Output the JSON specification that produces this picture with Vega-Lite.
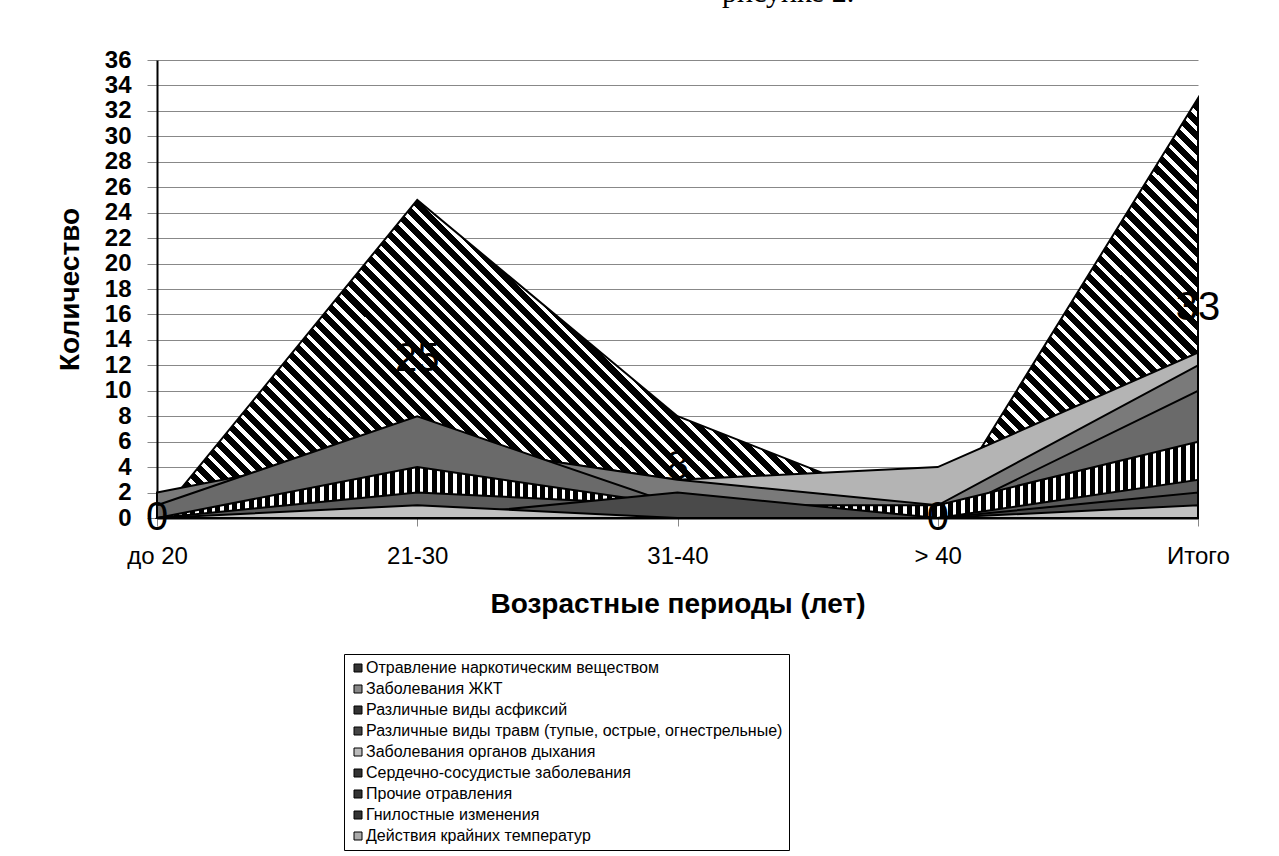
{
 "$schema": "https://vega.github.io/schema/vega-lite/v6.json",
 "width": 1041,
 "height": 458,
 "autosize": "none",
 "padding": {"left": 157, "top": 60, "right": 81, "bottom": 338},
 "background": "white",
 "config": {"font": "Liberation Sans", "view": {"stroke": null}},
 "title": {"text": "рисунке 2.", "font": "Liberation Serif", "fontSize": 30, "fontWeight": "normal", "anchor": "start", "frame": "group", "dx": 565, "offset": 40, "color": "black"},
 "data": {"values": [
  {"age": "до 20", "cause": "Отравление наркотическим веществом", "n": 0},
  {"age": "21-30", "cause": "Отравление наркотическим веществом", "n": 25},
  {"age": "31-40", "cause": "Отравление наркотическим веществом", "n": 8},
  {"age": ">  40", "cause": "Отравление наркотическим веществом", "n": 0},
  {"age": "Итого", "cause": "Отравление наркотическим веществом", "n": 33},
  {"age": "до 20", "cause": "Заболевания  ЖКТ", "n": 0},
  {"age": "21-30", "cause": "Заболевания  ЖКТ", "n": 6},
  {"age": "31-40", "cause": "Заболевания  ЖКТ", "n": 3},
  {"age": ">  40", "cause": "Заболевания  ЖКТ", "n": 4},
  {"age": "Итого", "cause": "Заболевания  ЖКТ", "n": 13},
  {"age": "до 20", "cause": "Различные виды асфиксий", "n": 2},
  {"age": "21-30", "cause": "Различные виды асфиксий", "n": 6},
  {"age": "31-40", "cause": "Различные виды асфиксий", "n": 3},
  {"age": ">  40", "cause": "Различные виды асфиксий", "n": 1},
  {"age": "Итого", "cause": "Различные виды асфиксий", "n": 12},
  {"age": "до 20", "cause": "Различные виды травм (тупые, острые, огнестрельные)", "n": 1},
  {"age": "21-30", "cause": "Различные виды травм (тупые, острые, огнестрельные)", "n": 8},
  {"age": "31-40", "cause": "Различные виды травм (тупые, острые, огнестрельные)", "n": 1},
  {"age": ">  40", "cause": "Различные виды травм (тупые, острые, огнестрельные)", "n": 0},
  {"age": "Итого", "cause": "Различные виды травм (тупые, острые, огнестрельные)", "n": 10},
  {"age": "до 20", "cause": "Заболевания органов дыхания", "n": 0},
  {"age": "21-30", "cause": "Заболевания органов дыхания", "n": 2},
  {"age": "31-40", "cause": "Заболевания органов дыхания", "n": 0},
  {"age": ">  40", "cause": "Заболевания органов дыхания", "n": 0},
  {"age": "Итого", "cause": "Заболевания органов дыхания", "n": 2},
  {"age": "до 20", "cause": "Сердечно-сосудистые заболевания", "n": 0},
  {"age": "21-30", "cause": "Сердечно-сосудистые заболевания", "n": 4},
  {"age": "31-40", "cause": "Сердечно-сосудистые заболевания", "n": 1},
  {"age": ">  40", "cause": "Сердечно-сосудистые заболевания", "n": 1},
  {"age": "Итого", "cause": "Сердечно-сосудистые заболевания", "n": 6},
  {"age": "до 20", "cause": "Прочие отравления", "n": 0},
  {"age": "21-30", "cause": "Прочие отравления", "n": 2},
  {"age": "31-40", "cause": "Прочие отравления", "n": 1},
  {"age": ">  40", "cause": "Прочие отравления", "n": 0},
  {"age": "Итого", "cause": "Прочие отравления", "n": 3},
  {"age": "до 20", "cause": "Гнилостные изменения", "n": 0},
  {"age": "21-30", "cause": "Гнилостные изменения", "n": 0},
  {"age": "31-40", "cause": "Гнилостные изменения", "n": 2},
  {"age": ">  40", "cause": "Гнилостные изменения", "n": 0},
  {"age": "Итого", "cause": "Гнилостные изменения", "n": 2},
  {"age": "до 20", "cause": "Действия крайних температур", "n": 0},
  {"age": "21-30", "cause": "Действия крайних температур", "n": 1},
  {"age": "31-40", "cause": "Действия крайних температур", "n": 0},
  {"age": ">  40", "cause": "Действия крайних температур", "n": 0},
  {"age": "Итого", "cause": "Действия крайних температур", "n": 1}
 ]},
 "resolve": {"scale": {"y": "independent"}},
 "layer": [
  {
   "encoding": {
    "x": {"field": "age", "type": "ordinal", "sort": ["до 20", "21-30", "31-40", ">  40", "Итого"], "scale": {"type": "point", "padding": 0},
     "axis": {"title": "Возрастные периоды (лет)", "titleFontSize": 28, "titleFontWeight": "bold", "titlePadding": 22, "titleColor": "black", "labelFontSize": 24, "labelAngle": 0, "labelPadding": 18, "labelColor": "black", "tickSize": 8, "tickColor": "#888", "domainColor": "black", "domainWidth": 2, "grid": false}},
    "y": {"field": "n", "type": "quantitative", "stack": null, "scale": {"domain": [0, 36], "nice": false},
     "axis": {"title": "Количество", "values": [0, 2, 4, 6, 8, 10, 12, 14, 16, 18, 20, 22, 24, 26, 28, 30, 32, 34, 36], "labelOverlap": false, "labelFontSize": 24, "labelFontWeight": "bold", "labelColor": "black", "labelPadding": 16, "titleFontSize": 28, "titleFontWeight": "bold", "titleColor": "black", "titlePadding": 20, "tickSize": 10, "tickColor": "#888", "domainColor": "black", "domainWidth": 2, "gridColor": "#888", "gridWidth": 1}}
   },
   "layer": [
    {"mark": {"type": "square", "opacity": 0},
     "encoding": {"fill": {"field": "cause", "type": "nominal",
      "scale": {"domain": ["Отравление наркотическим веществом", "Заболевания  ЖКТ", "Различные виды асфиксий", "Различные виды травм (тупые, острые, огнестрельные)", "Заболевания органов дыхания", "Сердечно-сосудистые заболевания", "Прочие отравления", "Гнилостные изменения", "Действия крайних температур"],
       "range": ["#333333", "#888888", "#333333", "#444444", "#bbbbbb", "#333333", "#333333", "#333333", "#aaaaaa"]},
      "legend": {"title": null, "orient": "none", "legendX": 187, "legendY": 594, "direction": "vertical", "symbolType": "square", "symbolSize": 64, "symbolOpacity": 1, "symbolStrokeColor": "black", "symbolStrokeWidth": 1, "labelFontSize": 16, "labelColor": "black", "labelLimit": 600, "labelOffset": 0, "rowPadding": 5, "padding": 6, "strokeColor": "black"}}}},
    {"transform": [{"filter": {"field": "cause", "equal": "Отравление наркотическим веществом"}}], "mark": {"type": "area", "stroke": "black", "strokeWidth": 2, "fill": {"gradient": "linear", "x1": 0, "y1": 1, "x2": 1.207, "y2": 0.513, "stops": [
{"offset":0,"color":"#000"},{"offset":0.0062,"color":"#000"},{"offset":0.0062,"color":"#fff"},{"offset":0.01,"color":"#fff"},
{"offset":0.01,"color":"#000"},{"offset":0.0162,"color":"#000"},{"offset":0.0162,"color":"#fff"},{"offset":0.02,"color":"#fff"},
{"offset":0.02,"color":"#000"},{"offset":0.0262,"color":"#000"},{"offset":0.0262,"color":"#fff"},{"offset":0.03,"color":"#fff"},
{"offset":0.03,"color":"#000"},{"offset":0.0362,"color":"#000"},{"offset":0.0362,"color":"#fff"},{"offset":0.04,"color":"#fff"},
{"offset":0.04,"color":"#000"},{"offset":0.0462,"color":"#000"},{"offset":0.0462,"color":"#fff"},{"offset":0.05,"color":"#fff"},
{"offset":0.05,"color":"#000"},{"offset":0.0562,"color":"#000"},{"offset":0.0562,"color":"#fff"},{"offset":0.06,"color":"#fff"},
{"offset":0.06,"color":"#000"},{"offset":0.0662,"color":"#000"},{"offset":0.0662,"color":"#fff"},{"offset":0.07,"color":"#fff"},
{"offset":0.07,"color":"#000"},{"offset":0.0762,"color":"#000"},{"offset":0.0762,"color":"#fff"},{"offset":0.08,"color":"#fff"},
{"offset":0.08,"color":"#000"},{"offset":0.0862,"color":"#000"},{"offset":0.0862,"color":"#fff"},{"offset":0.09,"color":"#fff"},
{"offset":0.09,"color":"#000"},{"offset":0.0962,"color":"#000"},{"offset":0.0962,"color":"#fff"},{"offset":0.1,"color":"#fff"},
{"offset":0.1,"color":"#000"},{"offset":0.1062,"color":"#000"},{"offset":0.1062,"color":"#fff"},{"offset":0.11,"color":"#fff"},
{"offset":0.11,"color":"#000"},{"offset":0.1162,"color":"#000"},{"offset":0.1162,"color":"#fff"},{"offset":0.12,"color":"#fff"},
{"offset":0.12,"color":"#000"},{"offset":0.1262,"color":"#000"},{"offset":0.1262,"color":"#fff"},{"offset":0.13,"color":"#fff"},
{"offset":0.13,"color":"#000"},{"offset":0.1362,"color":"#000"},{"offset":0.1362,"color":"#fff"},{"offset":0.14,"color":"#fff"},
{"offset":0.14,"color":"#000"},{"offset":0.1462,"color":"#000"},{"offset":0.1462,"color":"#fff"},{"offset":0.15,"color":"#fff"},
{"offset":0.15,"color":"#000"},{"offset":0.1562,"color":"#000"},{"offset":0.1562,"color":"#fff"},{"offset":0.16,"color":"#fff"},
{"offset":0.16,"color":"#000"},{"offset":0.1662,"color":"#000"},{"offset":0.1662,"color":"#fff"},{"offset":0.17,"color":"#fff"},
{"offset":0.17,"color":"#000"},{"offset":0.1762,"color":"#000"},{"offset":0.1762,"color":"#fff"},{"offset":0.18,"color":"#fff"},
{"offset":0.18,"color":"#000"},{"offset":0.1862,"color":"#000"},{"offset":0.1862,"color":"#fff"},{"offset":0.19,"color":"#fff"},
{"offset":0.19,"color":"#000"},{"offset":0.1962,"color":"#000"},{"offset":0.1962,"color":"#fff"},{"offset":0.2,"color":"#fff"},
{"offset":0.2,"color":"#000"},{"offset":0.2062,"color":"#000"},{"offset":0.2062,"color":"#fff"},{"offset":0.21,"color":"#fff"},
{"offset":0.21,"color":"#000"},{"offset":0.2162,"color":"#000"},{"offset":0.2162,"color":"#fff"},{"offset":0.22,"color":"#fff"},
{"offset":0.22,"color":"#000"},{"offset":0.2262,"color":"#000"},{"offset":0.2262,"color":"#fff"},{"offset":0.23,"color":"#fff"},
{"offset":0.23,"color":"#000"},{"offset":0.2362,"color":"#000"},{"offset":0.2362,"color":"#fff"},{"offset":0.24,"color":"#fff"},
{"offset":0.24,"color":"#000"},{"offset":0.2462,"color":"#000"},{"offset":0.2462,"color":"#fff"},{"offset":0.25,"color":"#fff"},
{"offset":0.25,"color":"#000"},{"offset":0.2562,"color":"#000"},{"offset":0.2562,"color":"#fff"},{"offset":0.26,"color":"#fff"},
{"offset":0.26,"color":"#000"},{"offset":0.2662,"color":"#000"},{"offset":0.2662,"color":"#fff"},{"offset":0.27,"color":"#fff"},
{"offset":0.27,"color":"#000"},{"offset":0.2762,"color":"#000"},{"offset":0.2762,"color":"#fff"},{"offset":0.28,"color":"#fff"},
{"offset":0.28,"color":"#000"},{"offset":0.2862,"color":"#000"},{"offset":0.2862,"color":"#fff"},{"offset":0.29,"color":"#fff"},
{"offset":0.29,"color":"#000"},{"offset":0.2962,"color":"#000"},{"offset":0.2962,"color":"#fff"},{"offset":0.3,"color":"#fff"},
{"offset":0.3,"color":"#000"},{"offset":0.3062,"color":"#000"},{"offset":0.3062,"color":"#fff"},{"offset":0.31,"color":"#fff"},
{"offset":0.31,"color":"#000"},{"offset":0.3162,"color":"#000"},{"offset":0.3162,"color":"#fff"},{"offset":0.32,"color":"#fff"},
{"offset":0.32,"color":"#000"},{"offset":0.3262,"color":"#000"},{"offset":0.3262,"color":"#fff"},{"offset":0.33,"color":"#fff"},
{"offset":0.33,"color":"#000"},{"offset":0.3362,"color":"#000"},{"offset":0.3362,"color":"#fff"},{"offset":0.34,"color":"#fff"},
{"offset":0.34,"color":"#000"},{"offset":0.3462,"color":"#000"},{"offset":0.3462,"color":"#fff"},{"offset":0.35,"color":"#fff"},
{"offset":0.35,"color":"#000"},{"offset":0.3562,"color":"#000"},{"offset":0.3562,"color":"#fff"},{"offset":0.36,"color":"#fff"},
{"offset":0.36,"color":"#000"},{"offset":0.3662,"color":"#000"},{"offset":0.3662,"color":"#fff"},{"offset":0.37,"color":"#fff"},
{"offset":0.37,"color":"#000"},{"offset":0.3762,"color":"#000"},{"offset":0.3762,"color":"#fff"},{"offset":0.38,"color":"#fff"},
{"offset":0.38,"color":"#000"},{"offset":0.3862,"color":"#000"},{"offset":0.3862,"color":"#fff"},{"offset":0.39,"color":"#fff"},
{"offset":0.39,"color":"#000"},{"offset":0.3962,"color":"#000"},{"offset":0.3962,"color":"#fff"},{"offset":0.4,"color":"#fff"},
{"offset":0.4,"color":"#000"},{"offset":0.4062,"color":"#000"},{"offset":0.4062,"color":"#fff"},{"offset":0.41,"color":"#fff"},
{"offset":0.41,"color":"#000"},{"offset":0.4162,"color":"#000"},{"offset":0.4162,"color":"#fff"},{"offset":0.42,"color":"#fff"},
{"offset":0.42,"color":"#000"},{"offset":0.4262,"color":"#000"},{"offset":0.4262,"color":"#fff"},{"offset":0.43,"color":"#fff"},
{"offset":0.43,"color":"#000"},{"offset":0.4362,"color":"#000"},{"offset":0.4362,"color":"#fff"},{"offset":0.44,"color":"#fff"},
{"offset":0.44,"color":"#000"},{"offset":0.4462,"color":"#000"},{"offset":0.4462,"color":"#fff"},{"offset":0.45,"color":"#fff"},
{"offset":0.45,"color":"#000"},{"offset":0.4562,"color":"#000"},{"offset":0.4562,"color":"#fff"},{"offset":0.46,"color":"#fff"},
{"offset":0.46,"color":"#000"},{"offset":0.4662,"color":"#000"},{"offset":0.4662,"color":"#fff"},{"offset":0.47,"color":"#fff"},
{"offset":0.47,"color":"#000"},{"offset":0.4762,"color":"#000"},{"offset":0.4762,"color":"#fff"},{"offset":0.48,"color":"#fff"},
{"offset":0.48,"color":"#000"},{"offset":0.4862,"color":"#000"},{"offset":0.4862,"color":"#fff"},{"offset":0.49,"color":"#fff"},
{"offset":0.49,"color":"#000"},{"offset":0.4962,"color":"#000"},{"offset":0.4962,"color":"#fff"},{"offset":0.5,"color":"#fff"},
{"offset":0.5,"color":"#000"},{"offset":0.5062,"color":"#000"},{"offset":0.5062,"color":"#fff"},{"offset":0.51,"color":"#fff"},
{"offset":0.51,"color":"#000"},{"offset":0.5162,"color":"#000"},{"offset":0.5162,"color":"#fff"},{"offset":0.52,"color":"#fff"},
{"offset":0.52,"color":"#000"},{"offset":0.5262,"color":"#000"},{"offset":0.5262,"color":"#fff"},{"offset":0.53,"color":"#fff"},
{"offset":0.53,"color":"#000"},{"offset":0.5362,"color":"#000"},{"offset":0.5362,"color":"#fff"},{"offset":0.54,"color":"#fff"},
{"offset":0.54,"color":"#000"},{"offset":0.5462,"color":"#000"},{"offset":0.5462,"color":"#fff"},{"offset":0.55,"color":"#fff"},
{"offset":0.55,"color":"#000"},{"offset":0.5562,"color":"#000"},{"offset":0.5562,"color":"#fff"},{"offset":0.56,"color":"#fff"},
{"offset":0.56,"color":"#000"},{"offset":0.5662,"color":"#000"},{"offset":0.5662,"color":"#fff"},{"offset":0.57,"color":"#fff"},
{"offset":0.57,"color":"#000"},{"offset":0.5762,"color":"#000"},{"offset":0.5762,"color":"#fff"},{"offset":0.58,"color":"#fff"},
{"offset":0.58,"color":"#000"},{"offset":0.5862,"color":"#000"},{"offset":0.5862,"color":"#fff"},{"offset":0.59,"color":"#fff"},
{"offset":0.59,"color":"#000"},{"offset":0.5962,"color":"#000"},{"offset":0.5962,"color":"#fff"},{"offset":0.6,"color":"#fff"},
{"offset":0.6,"color":"#000"},{"offset":0.6062,"color":"#000"},{"offset":0.6062,"color":"#fff"},{"offset":0.61,"color":"#fff"},
{"offset":0.61,"color":"#000"},{"offset":0.6162,"color":"#000"},{"offset":0.6162,"color":"#fff"},{"offset":0.62,"color":"#fff"},
{"offset":0.62,"color":"#000"},{"offset":0.6262,"color":"#000"},{"offset":0.6262,"color":"#fff"},{"offset":0.63,"color":"#fff"},
{"offset":0.63,"color":"#000"},{"offset":0.6362,"color":"#000"},{"offset":0.6362,"color":"#fff"},{"offset":0.64,"color":"#fff"},
{"offset":0.64,"color":"#000"},{"offset":0.6462,"color":"#000"},{"offset":0.6462,"color":"#fff"},{"offset":0.65,"color":"#fff"},
{"offset":0.65,"color":"#000"},{"offset":0.6562,"color":"#000"},{"offset":0.6562,"color":"#fff"},{"offset":0.66,"color":"#fff"},
{"offset":0.66,"color":"#000"},{"offset":0.6662,"color":"#000"},{"offset":0.6662,"color":"#fff"},{"offset":0.67,"color":"#fff"},
{"offset":0.67,"color":"#000"},{"offset":0.6762,"color":"#000"},{"offset":0.6762,"color":"#fff"},{"offset":0.68,"color":"#fff"},
{"offset":0.68,"color":"#000"},{"offset":0.6862,"color":"#000"},{"offset":0.6862,"color":"#fff"},{"offset":0.69,"color":"#fff"},
{"offset":0.69,"color":"#000"},{"offset":0.6962,"color":"#000"},{"offset":0.6962,"color":"#fff"},{"offset":0.7,"color":"#fff"},
{"offset":0.7,"color":"#000"},{"offset":0.7062,"color":"#000"},{"offset":0.7062,"color":"#fff"},{"offset":0.71,"color":"#fff"},
{"offset":0.71,"color":"#000"},{"offset":0.7162,"color":"#000"},{"offset":0.7162,"color":"#fff"},{"offset":0.72,"color":"#fff"},
{"offset":0.72,"color":"#000"},{"offset":0.7262,"color":"#000"},{"offset":0.7262,"color":"#fff"},{"offset":0.73,"color":"#fff"},
{"offset":0.73,"color":"#000"},{"offset":0.7362,"color":"#000"},{"offset":0.7362,"color":"#fff"},{"offset":0.74,"color":"#fff"},
{"offset":0.74,"color":"#000"},{"offset":0.7462,"color":"#000"},{"offset":0.7462,"color":"#fff"},{"offset":0.75,"color":"#fff"},
{"offset":0.75,"color":"#000"},{"offset":0.7562,"color":"#000"},{"offset":0.7562,"color":"#fff"},{"offset":0.76,"color":"#fff"},
{"offset":0.76,"color":"#000"},{"offset":0.7662,"color":"#000"},{"offset":0.7662,"color":"#fff"},{"offset":0.77,"color":"#fff"},
{"offset":0.77,"color":"#000"},{"offset":0.7762,"color":"#000"},{"offset":0.7762,"color":"#fff"},{"offset":0.78,"color":"#fff"},
{"offset":0.78,"color":"#000"},{"offset":0.7862,"color":"#000"},{"offset":0.7862,"color":"#fff"},{"offset":0.79,"color":"#fff"},
{"offset":0.79,"color":"#000"},{"offset":0.7962,"color":"#000"},{"offset":0.7962,"color":"#fff"},{"offset":0.8,"color":"#fff"},
{"offset":0.8,"color":"#000"},{"offset":0.8062,"color":"#000"},{"offset":0.8062,"color":"#fff"},{"offset":0.81,"color":"#fff"},
{"offset":0.81,"color":"#000"},{"offset":0.8162,"color":"#000"},{"offset":0.8162,"color":"#fff"},{"offset":0.82,"color":"#fff"},
{"offset":0.82,"color":"#000"},{"offset":0.8262,"color":"#000"},{"offset":0.8262,"color":"#fff"},{"offset":0.83,"color":"#fff"},
{"offset":0.83,"color":"#000"},{"offset":0.8362,"color":"#000"},{"offset":0.8362,"color":"#fff"},{"offset":0.84,"color":"#fff"},
{"offset":0.84,"color":"#000"},{"offset":0.8462,"color":"#000"},{"offset":0.8462,"color":"#fff"},{"offset":0.85,"color":"#fff"},
{"offset":0.85,"color":"#000"},{"offset":0.8562,"color":"#000"},{"offset":0.8562,"color":"#fff"},{"offset":0.86,"color":"#fff"},
{"offset":0.86,"color":"#000"},{"offset":0.8662,"color":"#000"},{"offset":0.8662,"color":"#fff"},{"offset":0.87,"color":"#fff"},
{"offset":0.87,"color":"#000"},{"offset":0.8762,"color":"#000"},{"offset":0.8762,"color":"#fff"},{"offset":0.88,"color":"#fff"},
{"offset":0.88,"color":"#000"},{"offset":0.8862,"color":"#000"},{"offset":0.8862,"color":"#fff"},{"offset":0.89,"color":"#fff"},
{"offset":0.89,"color":"#000"},{"offset":0.8962,"color":"#000"},{"offset":0.8962,"color":"#fff"},{"offset":0.9,"color":"#fff"},
{"offset":0.9,"color":"#000"},{"offset":0.9062,"color":"#000"},{"offset":0.9062,"color":"#fff"},{"offset":0.91,"color":"#fff"},
{"offset":0.91,"color":"#000"},{"offset":0.9162,"color":"#000"},{"offset":0.9162,"color":"#fff"},{"offset":0.92,"color":"#fff"},
{"offset":0.92,"color":"#000"},{"offset":0.9262,"color":"#000"},{"offset":0.9262,"color":"#fff"},{"offset":0.93,"color":"#fff"},
{"offset":0.93,"color":"#000"},{"offset":0.9362,"color":"#000"},{"offset":0.9362,"color":"#fff"},{"offset":0.94,"color":"#fff"},
{"offset":0.94,"color":"#000"},{"offset":0.9462,"color":"#000"},{"offset":0.9462,"color":"#fff"},{"offset":0.95,"color":"#fff"},
{"offset":0.95,"color":"#000"},{"offset":0.9562,"color":"#000"},{"offset":0.9562,"color":"#fff"},{"offset":0.96,"color":"#fff"},
{"offset":0.96,"color":"#000"},{"offset":0.9662,"color":"#000"},{"offset":0.9662,"color":"#fff"},{"offset":0.97,"color":"#fff"},
{"offset":0.97,"color":"#000"},{"offset":0.9762,"color":"#000"},{"offset":0.9762,"color":"#fff"},{"offset":0.98,"color":"#fff"},
{"offset":0.98,"color":"#000"},{"offset":0.9862,"color":"#000"},{"offset":0.9862,"color":"#fff"},{"offset":0.99,"color":"#fff"},
{"offset":0.99,"color":"#000"},{"offset":0.9962,"color":"#000"},{"offset":0.9962,"color":"#fff"},{"offset":1,"color":"#fff"}
]}}},
    {"transform": [{"filter": {"field": "cause", "equal": "Заболевания  ЖКТ"}}], "mark": {"type": "area", "stroke": "black", "strokeWidth": 2, "fill": "#b4b4b4"}},
    {"transform": [{"filter": {"field": "cause", "equal": "Различные виды асфиксий"}}], "mark": {"type": "area", "stroke": "black", "strokeWidth": 2, "fill": "#7a7a7a"}},
    {"transform": [{"filter": {"field": "cause", "equal": "Различные виды травм (тупые, острые, огнестрельные)"}}], "mark": {"type": "area", "stroke": "black", "strokeWidth": 2, "fill": "#6a6a6a"}},
    {"transform": [{"filter": {"field": "cause", "equal": "Заболевания органов дыхания"}}], "mark": {"type": "area", "stroke": "black", "strokeWidth": 2, "fill": "#c0c0c0"}},
    {"transform": [{"filter": {"field": "cause", "equal": "Сердечно-сосудистые заболевания"}}], "mark": {"type": "area", "stroke": "black", "strokeWidth": 2, "fill": {"gradient": "linear", "x1": 0, "y1": 0, "x2": 1, "y2": 0, "stops": [
{"offset":0,"color":"#000"},{"offset":0.0048,"color":"#000"},{"offset":0.0048,"color":"#fff"},{"offset":0.008,"color":"#fff"},
{"offset":0.008,"color":"#000"},{"offset":0.0128,"color":"#000"},{"offset":0.0128,"color":"#fff"},{"offset":0.016,"color":"#fff"},
{"offset":0.016,"color":"#000"},{"offset":0.0208,"color":"#000"},{"offset":0.0208,"color":"#fff"},{"offset":0.024,"color":"#fff"},
{"offset":0.024,"color":"#000"},{"offset":0.0288,"color":"#000"},{"offset":0.0288,"color":"#fff"},{"offset":0.032,"color":"#fff"},
{"offset":0.032,"color":"#000"},{"offset":0.0368,"color":"#000"},{"offset":0.0368,"color":"#fff"},{"offset":0.04,"color":"#fff"},
{"offset":0.04,"color":"#000"},{"offset":0.0448,"color":"#000"},{"offset":0.0448,"color":"#fff"},{"offset":0.048,"color":"#fff"},
{"offset":0.048,"color":"#000"},{"offset":0.0528,"color":"#000"},{"offset":0.0528,"color":"#fff"},{"offset":0.056,"color":"#fff"},
{"offset":0.056,"color":"#000"},{"offset":0.0608,"color":"#000"},{"offset":0.0608,"color":"#fff"},{"offset":0.064,"color":"#fff"},
{"offset":0.064,"color":"#000"},{"offset":0.0688,"color":"#000"},{"offset":0.0688,"color":"#fff"},{"offset":0.072,"color":"#fff"},
{"offset":0.072,"color":"#000"},{"offset":0.0768,"color":"#000"},{"offset":0.0768,"color":"#fff"},{"offset":0.08,"color":"#fff"},
{"offset":0.08,"color":"#000"},{"offset":0.0848,"color":"#000"},{"offset":0.0848,"color":"#fff"},{"offset":0.088,"color":"#fff"},
{"offset":0.088,"color":"#000"},{"offset":0.0928,"color":"#000"},{"offset":0.0928,"color":"#fff"},{"offset":0.096,"color":"#fff"},
{"offset":0.096,"color":"#000"},{"offset":0.1008,"color":"#000"},{"offset":0.1008,"color":"#fff"},{"offset":0.104,"color":"#fff"},
{"offset":0.104,"color":"#000"},{"offset":0.1088,"color":"#000"},{"offset":0.1088,"color":"#fff"},{"offset":0.112,"color":"#fff"},
{"offset":0.112,"color":"#000"},{"offset":0.1168,"color":"#000"},{"offset":0.1168,"color":"#fff"},{"offset":0.12,"color":"#fff"},
{"offset":0.12,"color":"#000"},{"offset":0.1248,"color":"#000"},{"offset":0.1248,"color":"#fff"},{"offset":0.128,"color":"#fff"},
{"offset":0.128,"color":"#000"},{"offset":0.1328,"color":"#000"},{"offset":0.1328,"color":"#fff"},{"offset":0.136,"color":"#fff"},
{"offset":0.136,"color":"#000"},{"offset":0.1408,"color":"#000"},{"offset":0.1408,"color":"#fff"},{"offset":0.144,"color":"#fff"},
{"offset":0.144,"color":"#000"},{"offset":0.1488,"color":"#000"},{"offset":0.1488,"color":"#fff"},{"offset":0.152,"color":"#fff"},
{"offset":0.152,"color":"#000"},{"offset":0.1568,"color":"#000"},{"offset":0.1568,"color":"#fff"},{"offset":0.16,"color":"#fff"},
{"offset":0.16,"color":"#000"},{"offset":0.1648,"color":"#000"},{"offset":0.1648,"color":"#fff"},{"offset":0.168,"color":"#fff"},
{"offset":0.168,"color":"#000"},{"offset":0.1728,"color":"#000"},{"offset":0.1728,"color":"#fff"},{"offset":0.176,"color":"#fff"},
{"offset":0.176,"color":"#000"},{"offset":0.1808,"color":"#000"},{"offset":0.1808,"color":"#fff"},{"offset":0.184,"color":"#fff"},
{"offset":0.184,"color":"#000"},{"offset":0.1888,"color":"#000"},{"offset":0.1888,"color":"#fff"},{"offset":0.192,"color":"#fff"},
{"offset":0.192,"color":"#000"},{"offset":0.1968,"color":"#000"},{"offset":0.1968,"color":"#fff"},{"offset":0.2,"color":"#fff"},
{"offset":0.2,"color":"#000"},{"offset":0.2048,"color":"#000"},{"offset":0.2048,"color":"#fff"},{"offset":0.208,"color":"#fff"},
{"offset":0.208,"color":"#000"},{"offset":0.2128,"color":"#000"},{"offset":0.2128,"color":"#fff"},{"offset":0.216,"color":"#fff"},
{"offset":0.216,"color":"#000"},{"offset":0.2208,"color":"#000"},{"offset":0.2208,"color":"#fff"},{"offset":0.224,"color":"#fff"},
{"offset":0.224,"color":"#000"},{"offset":0.2288,"color":"#000"},{"offset":0.2288,"color":"#fff"},{"offset":0.232,"color":"#fff"},
{"offset":0.232,"color":"#000"},{"offset":0.2368,"color":"#000"},{"offset":0.2368,"color":"#fff"},{"offset":0.24,"color":"#fff"},
{"offset":0.24,"color":"#000"},{"offset":0.2448,"color":"#000"},{"offset":0.2448,"color":"#fff"},{"offset":0.248,"color":"#fff"},
{"offset":0.248,"color":"#000"},{"offset":0.2528,"color":"#000"},{"offset":0.2528,"color":"#fff"},{"offset":0.256,"color":"#fff"},
{"offset":0.256,"color":"#000"},{"offset":0.2608,"color":"#000"},{"offset":0.2608,"color":"#fff"},{"offset":0.264,"color":"#fff"},
{"offset":0.264,"color":"#000"},{"offset":0.2688,"color":"#000"},{"offset":0.2688,"color":"#fff"},{"offset":0.272,"color":"#fff"},
{"offset":0.272,"color":"#000"},{"offset":0.2768,"color":"#000"},{"offset":0.2768,"color":"#fff"},{"offset":0.28,"color":"#fff"},
{"offset":0.28,"color":"#000"},{"offset":0.2848,"color":"#000"},{"offset":0.2848,"color":"#fff"},{"offset":0.288,"color":"#fff"},
{"offset":0.288,"color":"#000"},{"offset":0.2928,"color":"#000"},{"offset":0.2928,"color":"#fff"},{"offset":0.296,"color":"#fff"},
{"offset":0.296,"color":"#000"},{"offset":0.3008,"color":"#000"},{"offset":0.3008,"color":"#fff"},{"offset":0.304,"color":"#fff"},
{"offset":0.304,"color":"#000"},{"offset":0.3088,"color":"#000"},{"offset":0.3088,"color":"#fff"},{"offset":0.312,"color":"#fff"},
{"offset":0.312,"color":"#000"},{"offset":0.3168,"color":"#000"},{"offset":0.3168,"color":"#fff"},{"offset":0.32,"color":"#fff"},
{"offset":0.32,"color":"#000"},{"offset":0.3248,"color":"#000"},{"offset":0.3248,"color":"#fff"},{"offset":0.328,"color":"#fff"},
{"offset":0.328,"color":"#000"},{"offset":0.3328,"color":"#000"},{"offset":0.3328,"color":"#fff"},{"offset":0.336,"color":"#fff"},
{"offset":0.336,"color":"#000"},{"offset":0.3408,"color":"#000"},{"offset":0.3408,"color":"#fff"},{"offset":0.344,"color":"#fff"},
{"offset":0.344,"color":"#000"},{"offset":0.3488,"color":"#000"},{"offset":0.3488,"color":"#fff"},{"offset":0.352,"color":"#fff"},
{"offset":0.352,"color":"#000"},{"offset":0.3568,"color":"#000"},{"offset":0.3568,"color":"#fff"},{"offset":0.36,"color":"#fff"},
{"offset":0.36,"color":"#000"},{"offset":0.3648,"color":"#000"},{"offset":0.3648,"color":"#fff"},{"offset":0.368,"color":"#fff"},
{"offset":0.368,"color":"#000"},{"offset":0.3728,"color":"#000"},{"offset":0.3728,"color":"#fff"},{"offset":0.376,"color":"#fff"},
{"offset":0.376,"color":"#000"},{"offset":0.3808,"color":"#000"},{"offset":0.3808,"color":"#fff"},{"offset":0.384,"color":"#fff"},
{"offset":0.384,"color":"#000"},{"offset":0.3888,"color":"#000"},{"offset":0.3888,"color":"#fff"},{"offset":0.392,"color":"#fff"},
{"offset":0.392,"color":"#000"},{"offset":0.3968,"color":"#000"},{"offset":0.3968,"color":"#fff"},{"offset":0.4,"color":"#fff"},
{"offset":0.4,"color":"#000"},{"offset":0.4048,"color":"#000"},{"offset":0.4048,"color":"#fff"},{"offset":0.408,"color":"#fff"},
{"offset":0.408,"color":"#000"},{"offset":0.4128,"color":"#000"},{"offset":0.4128,"color":"#fff"},{"offset":0.416,"color":"#fff"},
{"offset":0.416,"color":"#000"},{"offset":0.4208,"color":"#000"},{"offset":0.4208,"color":"#fff"},{"offset":0.424,"color":"#fff"},
{"offset":0.424,"color":"#000"},{"offset":0.4288,"color":"#000"},{"offset":0.4288,"color":"#fff"},{"offset":0.432,"color":"#fff"},
{"offset":0.432,"color":"#000"},{"offset":0.4368,"color":"#000"},{"offset":0.4368,"color":"#fff"},{"offset":0.44,"color":"#fff"},
{"offset":0.44,"color":"#000"},{"offset":0.4448,"color":"#000"},{"offset":0.4448,"color":"#fff"},{"offset":0.448,"color":"#fff"},
{"offset":0.448,"color":"#000"},{"offset":0.4528,"color":"#000"},{"offset":0.4528,"color":"#fff"},{"offset":0.456,"color":"#fff"},
{"offset":0.456,"color":"#000"},{"offset":0.4608,"color":"#000"},{"offset":0.4608,"color":"#fff"},{"offset":0.464,"color":"#fff"},
{"offset":0.464,"color":"#000"},{"offset":0.4688,"color":"#000"},{"offset":0.4688,"color":"#fff"},{"offset":0.472,"color":"#fff"},
{"offset":0.472,"color":"#000"},{"offset":0.4768,"color":"#000"},{"offset":0.4768,"color":"#fff"},{"offset":0.48,"color":"#fff"},
{"offset":0.48,"color":"#000"},{"offset":0.4848,"color":"#000"},{"offset":0.4848,"color":"#fff"},{"offset":0.488,"color":"#fff"},
{"offset":0.488,"color":"#000"},{"offset":0.4928,"color":"#000"},{"offset":0.4928,"color":"#fff"},{"offset":0.496,"color":"#fff"},
{"offset":0.496,"color":"#000"},{"offset":0.5008,"color":"#000"},{"offset":0.5008,"color":"#fff"},{"offset":0.504,"color":"#fff"},
{"offset":0.504,"color":"#000"},{"offset":0.5088,"color":"#000"},{"offset":0.5088,"color":"#fff"},{"offset":0.512,"color":"#fff"},
{"offset":0.512,"color":"#000"},{"offset":0.5168,"color":"#000"},{"offset":0.5168,"color":"#fff"},{"offset":0.52,"color":"#fff"},
{"offset":0.52,"color":"#000"},{"offset":0.5248,"color":"#000"},{"offset":0.5248,"color":"#fff"},{"offset":0.528,"color":"#fff"},
{"offset":0.528,"color":"#000"},{"offset":0.5328,"color":"#000"},{"offset":0.5328,"color":"#fff"},{"offset":0.536,"color":"#fff"},
{"offset":0.536,"color":"#000"},{"offset":0.5408,"color":"#000"},{"offset":0.5408,"color":"#fff"},{"offset":0.544,"color":"#fff"},
{"offset":0.544,"color":"#000"},{"offset":0.5488,"color":"#000"},{"offset":0.5488,"color":"#fff"},{"offset":0.552,"color":"#fff"},
{"offset":0.552,"color":"#000"},{"offset":0.5568,"color":"#000"},{"offset":0.5568,"color":"#fff"},{"offset":0.56,"color":"#fff"},
{"offset":0.56,"color":"#000"},{"offset":0.5648,"color":"#000"},{"offset":0.5648,"color":"#fff"},{"offset":0.568,"color":"#fff"},
{"offset":0.568,"color":"#000"},{"offset":0.5728,"color":"#000"},{"offset":0.5728,"color":"#fff"},{"offset":0.576,"color":"#fff"},
{"offset":0.576,"color":"#000"},{"offset":0.5808,"color":"#000"},{"offset":0.5808,"color":"#fff"},{"offset":0.584,"color":"#fff"},
{"offset":0.584,"color":"#000"},{"offset":0.5888,"color":"#000"},{"offset":0.5888,"color":"#fff"},{"offset":0.592,"color":"#fff"},
{"offset":0.592,"color":"#000"},{"offset":0.5968,"color":"#000"},{"offset":0.5968,"color":"#fff"},{"offset":0.6,"color":"#fff"},
{"offset":0.6,"color":"#000"},{"offset":0.6048,"color":"#000"},{"offset":0.6048,"color":"#fff"},{"offset":0.608,"color":"#fff"},
{"offset":0.608,"color":"#000"},{"offset":0.6128,"color":"#000"},{"offset":0.6128,"color":"#fff"},{"offset":0.616,"color":"#fff"},
{"offset":0.616,"color":"#000"},{"offset":0.6208,"color":"#000"},{"offset":0.6208,"color":"#fff"},{"offset":0.624,"color":"#fff"},
{"offset":0.624,"color":"#000"},{"offset":0.6288,"color":"#000"},{"offset":0.6288,"color":"#fff"},{"offset":0.632,"color":"#fff"},
{"offset":0.632,"color":"#000"},{"offset":0.6368,"color":"#000"},{"offset":0.6368,"color":"#fff"},{"offset":0.64,"color":"#fff"},
{"offset":0.64,"color":"#000"},{"offset":0.6448,"color":"#000"},{"offset":0.6448,"color":"#fff"},{"offset":0.648,"color":"#fff"},
{"offset":0.648,"color":"#000"},{"offset":0.6528,"color":"#000"},{"offset":0.6528,"color":"#fff"},{"offset":0.656,"color":"#fff"},
{"offset":0.656,"color":"#000"},{"offset":0.6608,"color":"#000"},{"offset":0.6608,"color":"#fff"},{"offset":0.664,"color":"#fff"},
{"offset":0.664,"color":"#000"},{"offset":0.6688,"color":"#000"},{"offset":0.6688,"color":"#fff"},{"offset":0.672,"color":"#fff"},
{"offset":0.672,"color":"#000"},{"offset":0.6768,"color":"#000"},{"offset":0.6768,"color":"#fff"},{"offset":0.68,"color":"#fff"},
{"offset":0.68,"color":"#000"},{"offset":0.6848,"color":"#000"},{"offset":0.6848,"color":"#fff"},{"offset":0.688,"color":"#fff"},
{"offset":0.688,"color":"#000"},{"offset":0.6928,"color":"#000"},{"offset":0.6928,"color":"#fff"},{"offset":0.696,"color":"#fff"},
{"offset":0.696,"color":"#000"},{"offset":0.7008,"color":"#000"},{"offset":0.7008,"color":"#fff"},{"offset":0.704,"color":"#fff"},
{"offset":0.704,"color":"#000"},{"offset":0.7088,"color":"#000"},{"offset":0.7088,"color":"#fff"},{"offset":0.712,"color":"#fff"},
{"offset":0.712,"color":"#000"},{"offset":0.7168,"color":"#000"},{"offset":0.7168,"color":"#fff"},{"offset":0.72,"color":"#fff"},
{"offset":0.72,"color":"#000"},{"offset":0.7248,"color":"#000"},{"offset":0.7248,"color":"#fff"},{"offset":0.728,"color":"#fff"},
{"offset":0.728,"color":"#000"},{"offset":0.7328,"color":"#000"},{"offset":0.7328,"color":"#fff"},{"offset":0.736,"color":"#fff"},
{"offset":0.736,"color":"#000"},{"offset":0.7408,"color":"#000"},{"offset":0.7408,"color":"#fff"},{"offset":0.744,"color":"#fff"},
{"offset":0.744,"color":"#000"},{"offset":0.7488,"color":"#000"},{"offset":0.7488,"color":"#fff"},{"offset":0.752,"color":"#fff"},
{"offset":0.752,"color":"#000"},{"offset":0.7568,"color":"#000"},{"offset":0.7568,"color":"#fff"},{"offset":0.76,"color":"#fff"},
{"offset":0.76,"color":"#000"},{"offset":0.7648,"color":"#000"},{"offset":0.7648,"color":"#fff"},{"offset":0.768,"color":"#fff"},
{"offset":0.768,"color":"#000"},{"offset":0.7728,"color":"#000"},{"offset":0.7728,"color":"#fff"},{"offset":0.776,"color":"#fff"},
{"offset":0.776,"color":"#000"},{"offset":0.7808,"color":"#000"},{"offset":0.7808,"color":"#fff"},{"offset":0.784,"color":"#fff"},
{"offset":0.784,"color":"#000"},{"offset":0.7888,"color":"#000"},{"offset":0.7888,"color":"#fff"},{"offset":0.792,"color":"#fff"},
{"offset":0.792,"color":"#000"},{"offset":0.7968,"color":"#000"},{"offset":0.7968,"color":"#fff"},{"offset":0.8,"color":"#fff"},
{"offset":0.8,"color":"#000"},{"offset":0.8048,"color":"#000"},{"offset":0.8048,"color":"#fff"},{"offset":0.808,"color":"#fff"},
{"offset":0.808,"color":"#000"},{"offset":0.8128,"color":"#000"},{"offset":0.8128,"color":"#fff"},{"offset":0.816,"color":"#fff"},
{"offset":0.816,"color":"#000"},{"offset":0.8208,"color":"#000"},{"offset":0.8208,"color":"#fff"},{"offset":0.824,"color":"#fff"},
{"offset":0.824,"color":"#000"},{"offset":0.8288,"color":"#000"},{"offset":0.8288,"color":"#fff"},{"offset":0.832,"color":"#fff"},
{"offset":0.832,"color":"#000"},{"offset":0.8368,"color":"#000"},{"offset":0.8368,"color":"#fff"},{"offset":0.84,"color":"#fff"},
{"offset":0.84,"color":"#000"},{"offset":0.8448,"color":"#000"},{"offset":0.8448,"color":"#fff"},{"offset":0.848,"color":"#fff"},
{"offset":0.848,"color":"#000"},{"offset":0.8528,"color":"#000"},{"offset":0.8528,"color":"#fff"},{"offset":0.856,"color":"#fff"},
{"offset":0.856,"color":"#000"},{"offset":0.8608,"color":"#000"},{"offset":0.8608,"color":"#fff"},{"offset":0.864,"color":"#fff"},
{"offset":0.864,"color":"#000"},{"offset":0.8688,"color":"#000"},{"offset":0.8688,"color":"#fff"},{"offset":0.872,"color":"#fff"},
{"offset":0.872,"color":"#000"},{"offset":0.8768,"color":"#000"},{"offset":0.8768,"color":"#fff"},{"offset":0.88,"color":"#fff"},
{"offset":0.88,"color":"#000"},{"offset":0.8848,"color":"#000"},{"offset":0.8848,"color":"#fff"},{"offset":0.888,"color":"#fff"},
{"offset":0.888,"color":"#000"},{"offset":0.8928,"color":"#000"},{"offset":0.8928,"color":"#fff"},{"offset":0.896,"color":"#fff"},
{"offset":0.896,"color":"#000"},{"offset":0.9008,"color":"#000"},{"offset":0.9008,"color":"#fff"},{"offset":0.904,"color":"#fff"},
{"offset":0.904,"color":"#000"},{"offset":0.9088,"color":"#000"},{"offset":0.9088,"color":"#fff"},{"offset":0.912,"color":"#fff"},
{"offset":0.912,"color":"#000"},{"offset":0.9168,"color":"#000"},{"offset":0.9168,"color":"#fff"},{"offset":0.92,"color":"#fff"},
{"offset":0.92,"color":"#000"},{"offset":0.9248,"color":"#000"},{"offset":0.9248,"color":"#fff"},{"offset":0.928,"color":"#fff"},
{"offset":0.928,"color":"#000"},{"offset":0.9328,"color":"#000"},{"offset":0.9328,"color":"#fff"},{"offset":0.936,"color":"#fff"},
{"offset":0.936,"color":"#000"},{"offset":0.9408,"color":"#000"},{"offset":0.9408,"color":"#fff"},{"offset":0.944,"color":"#fff"},
{"offset":0.944,"color":"#000"},{"offset":0.9488,"color":"#000"},{"offset":0.9488,"color":"#fff"},{"offset":0.952,"color":"#fff"},
{"offset":0.952,"color":"#000"},{"offset":0.9568,"color":"#000"},{"offset":0.9568,"color":"#fff"},{"offset":0.96,"color":"#fff"},
{"offset":0.96,"color":"#000"},{"offset":0.9648,"color":"#000"},{"offset":0.9648,"color":"#fff"},{"offset":0.968,"color":"#fff"},
{"offset":0.968,"color":"#000"},{"offset":0.9728,"color":"#000"},{"offset":0.9728,"color":"#fff"},{"offset":0.976,"color":"#fff"},
{"offset":0.976,"color":"#000"},{"offset":0.9808,"color":"#000"},{"offset":0.9808,"color":"#fff"},{"offset":0.984,"color":"#fff"},
{"offset":0.984,"color":"#000"},{"offset":0.9888,"color":"#000"},{"offset":0.9888,"color":"#fff"},{"offset":0.992,"color":"#fff"},
{"offset":0.992,"color":"#000"},{"offset":0.9968,"color":"#000"},{"offset":0.9968,"color":"#fff"},{"offset":1,"color":"#fff"}
]}}},
    {"transform": [{"filter": {"field": "cause", "equal": "Прочие отравления"}}], "mark": {"type": "area", "stroke": "black", "strokeWidth": 2, "fill": "#5a5a5a"}},
    {"transform": [{"filter": {"field": "cause", "equal": "Гнилостные изменения"}}], "mark": {"type": "area", "stroke": "black", "strokeWidth": 2, "fill": "#4a4a4a"}},
    {"transform": [{"filter": {"field": "cause", "equal": "Действия крайних температур"}}], "mark": {"type": "area", "stroke": "black", "strokeWidth": 2, "fill": "#c0c0c0"}}
   ]
  },
  {
   "transform": [{"filter": {"field": "cause", "equal": "Отравление наркотическим веществом"}}],
   "mark": {"type": "text", "fontSize": 40, "align": "center", "baseline": "middle", "color": "black"},
   "encoding": {
    "x": {"field": "age", "type": "ordinal", "sort": ["до 20", "21-30", "31-40", ">  40", "Итого"]},
    "y": {"field": "n", "type": "quantitative", "scale": {"domain": [0, 72], "nice": false}, "axis": null},
    "text": {"field": "n", "type": "quantitative"}
   }
  }
 ]
}
